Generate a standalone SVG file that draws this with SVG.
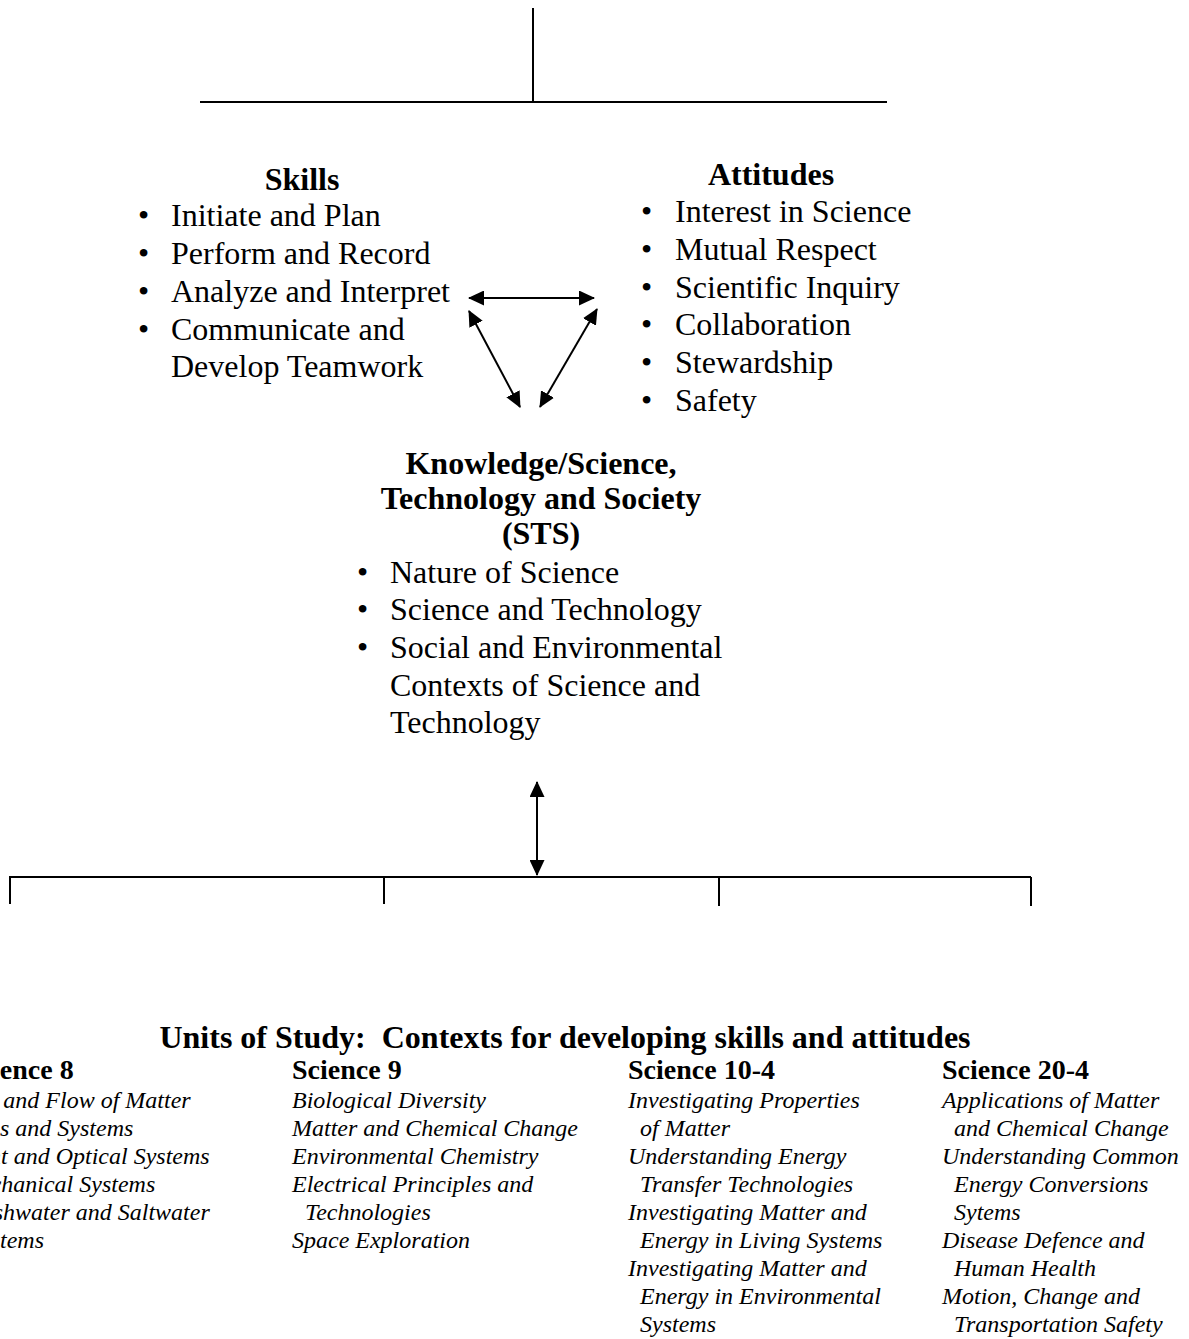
<svg xmlns="http://www.w3.org/2000/svg" width="1189" height="1339" viewBox="0 0 1189 1339">
<style>
  .t { font-family: "Liberation Serif", "Times New Roman", serif; fill: #000; }
  .h { font-size: 32px; font-weight: bold; }
  .b { font-size: 32px; }
  .ch { font-size: 28px; font-weight: bold; }
  .it { font-size: 24px; font-style: italic; }
  .ln { stroke: #000; stroke-width: 2; fill: none; }
</style>
<defs>
  <marker id="ah" viewBox="0 0 16 15" refX="15" refY="7.5" markerWidth="16" markerHeight="15" markerUnits="userSpaceOnUse" orient="auto-start-reverse">
    <path d="M0,0 L16,7.5 L0,15 Z" fill="#000"/>
  </marker>
</defs>
<rect width="1189" height="1339" fill="#fff"/>

<g id="connectors">
  <line class="ln" x1="533" y1="8" x2="533" y2="102" stroke-width="1.5"/>
  <line class="ln" x1="200" y1="102" x2="887" y2="102"/>
  <line class="ln" x1="469" y1="298" x2="594" y2="298" marker-start="url(#ah)" marker-end="url(#ah)"/>
  <line class="ln" x1="469" y1="311" x2="520" y2="407" marker-start="url(#ah)" marker-end="url(#ah)"/>
  <line class="ln" x1="597" y1="309" x2="540" y2="407" marker-start="url(#ah)" marker-end="url(#ah)"/>
  <line class="ln" x1="537" y1="782" x2="537" y2="875" marker-start="url(#ah)" marker-end="url(#ah)"/>
  <line class="ln" x1="9" y1="877" x2="1031" y2="877"/>
  <line class="ln" x1="10" y1="877" x2="10" y2="904" stroke-width="1.5"/>
  <line class="ln" x1="384" y1="877" x2="384" y2="904" stroke-width="1.5"/>
  <line class="ln" x1="719" y1="877" x2="719" y2="906" stroke-width="1.5"/>
  <line class="ln" x1="1031" y1="877" x2="1031" y2="906" stroke-width="1.5"/>
</g>

<g id="skills" class="t">
  <text class="h" x="302" y="190" text-anchor="middle">Skills</text>
  <g class="b">
    <text x="138" y="226">•</text><text x="171" y="226">Initiate and Plan</text>
    <text x="138" y="264">•</text><text x="171" y="264">Perform and Record</text>
    <text x="138" y="302">•</text><text x="171" y="302">Analyze and Interpret</text>
    <text x="138" y="340">•</text><text x="171" y="340">Communicate and</text>
    <text x="171" y="377">Develop Teamwork</text>
  </g>
</g>

<g id="attitudes" class="t">
  <text class="h" x="771" y="185" text-anchor="middle">Attitudes</text>
  <g class="b">
    <text x="641" y="222">•</text><text x="675" y="222">Interest in Science</text>
    <text x="641" y="260">•</text><text x="675" y="260">Mutual Respect</text>
    <text x="641" y="298">•</text><text x="675" y="298">Scientific Inquiry</text>
    <text x="641" y="335">•</text><text x="675" y="335">Collaboration</text>
    <text x="641" y="373">•</text><text x="675" y="373">Stewardship</text>
    <text x="641" y="411">•</text><text x="675" y="411">Safety</text>
  </g>
</g>

<g id="knowledge" class="t">
  <text class="h" x="541" y="474" text-anchor="middle">Knowledge/Science,</text>
  <text class="h" x="541" y="509" text-anchor="middle">Technology and Society</text>
  <text class="h" x="541" y="544" text-anchor="middle">(STS)</text>
  <g class="b">
    <text x="357" y="583">•</text><text x="390" y="583">Nature of Science</text>
    <text x="357" y="620">•</text><text x="390" y="620">Science and Technology</text>
    <text x="357" y="658">•</text><text x="390" y="658">Social and Environmental</text>
    <text x="390" y="696">Contexts of Science and</text>
    <text x="390" y="733">Technology</text>
  </g>
</g>

<g id="units" class="t">
  <text class="h" x="565" y="1048" text-anchor="middle">Units of Study:&#160; Contexts for developing skills and attitudes</text>
</g>

<g id="science8" class="t">
  <text class="ch" x="-36" y="1079">Science 8</text>
  <g class="it">
    <text x="-40" y="1108">Mix and Flow of Matter</text>
    <text x="-40" y="1136">Cells and Systems</text>
    <text x="-43" y="1164">Light and Optical Systems</text>
    <text x="-40" y="1192">Mechanical Systems</text>
    <text x="-40" y="1220">Freshwater and Saltwater</text>
    <text x="-32" y="1248">Systems</text>
  </g>
</g>

<g id="science9" class="t">
  <text class="ch" x="292" y="1079">Science 9</text>
  <g class="it">
    <text x="292" y="1108">Biological Diversity</text>
    <text x="292" y="1136">Matter and Chemical Change</text>
    <text x="292" y="1164">Environmental Chemistry</text>
    <text x="292" y="1192">Electrical Principles and</text>
    <text x="305" y="1220">Technologies</text>
    <text x="292" y="1248">Space Exploration</text>
  </g>
</g>

<g id="science10-4" class="t">
  <text class="ch" x="628" y="1079">Science 10-4</text>
  <g class="it">
    <text x="628" y="1108">Investigating Properties</text>
    <text x="640" y="1136">of Matter</text>
    <text x="628" y="1164">Understanding Energy</text>
    <text x="640" y="1192">Transfer Technologies</text>
    <text x="628" y="1220">Investigating Matter and</text>
    <text x="640" y="1248">Energy in Living Systems</text>
    <text x="628" y="1276">Investigating Matter and</text>
    <text x="640" y="1304">Energy in Environmental</text>
    <text x="640" y="1332">Systems</text>
  </g>
</g>

<g id="science20-4" class="t">
  <text class="ch" x="942" y="1079">Science 20-4</text>
  <g class="it">
    <text x="942" y="1108">Applications of Matter</text>
    <text x="954" y="1136">and Chemical Change</text>
    <text x="942" y="1164">Understanding Common</text>
    <text x="954" y="1192">Energy Conversions</text>
    <text x="954" y="1220">Sytems</text>
    <text x="942" y="1248">Disease Defence and</text>
    <text x="954" y="1276">Human Health</text>
    <text x="942" y="1304">Motion, Change and</text>
    <text x="954" y="1332">Transportation Safety</text>
  </g>
</g>
</svg>
